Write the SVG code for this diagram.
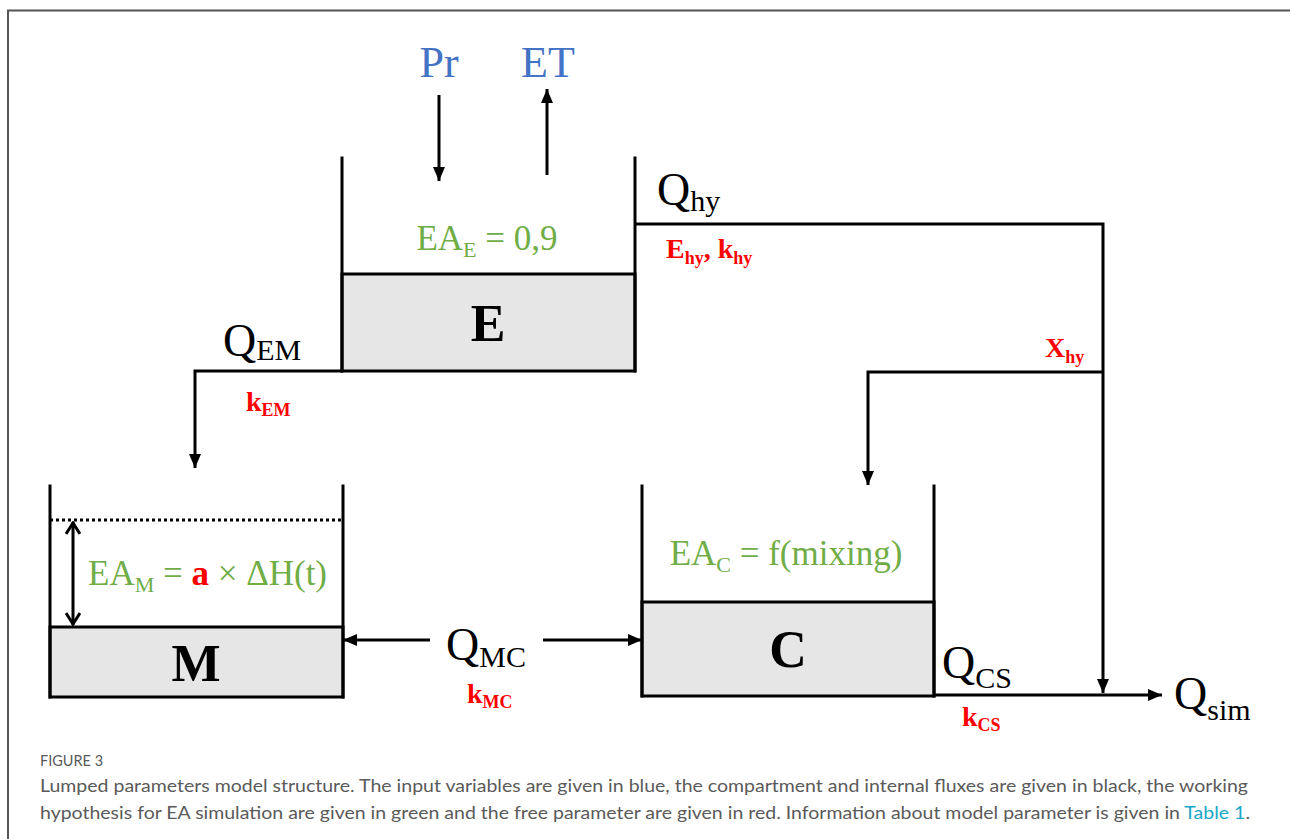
<svg xmlns="http://www.w3.org/2000/svg" width="1290" height="839" viewBox="0 0 1290 839">
<style>
.w{fill:none;stroke:#000;stroke-width:3;stroke-linecap:square}
.c{fill:none;stroke:#000;stroke-width:3}
.g{fill:#e6e6e6;stroke:#000;stroke-width:3}
.blue{font-family:"Liberation Serif",serif;fill:#4472C4;font-size:44px}
.green{font-family:"Liberation Serif",serif;fill:#70AD47;font-size:35px}
.lab{font-family:"Liberation Serif",serif;font-weight:bold;fill:#000;font-size:52px}
.q{font-family:"Liberation Serif",serif;fill:#000;font-size:46px}
.red{font-family:"Liberation Serif",serif;font-weight:bold;fill:#FF0000;font-size:28px}
.cap{font-family:Lato,"Noto Sans",sans-serif;fill:#5a5a5a}
</style>
<defs>
<marker id="ah" viewBox="0 0 14 12" refX="14" refY="6" markerWidth="14" markerHeight="12" markerUnits="userSpaceOnUse" orient="auto">
<path d="M0,0 L14,6 L0,12 Z" fill="#000"/>
</marker>
<marker id="oh" viewBox="0 0 14 16" refX="13" refY="8" markerWidth="14" markerHeight="16" markerUnits="userSpaceOnUse" orient="auto-start-reverse">
<path d="M1,1 L12,8 L1,15" fill="none" stroke="#000" stroke-width="3"/>
</marker>
</defs>
<rect width="1290" height="839" fill="#fff"/>
<path d="M8,839 V10.5 H1290" fill="none" stroke="#555" stroke-width="2"/>

<g id="node-E">
<rect x="342" y="274" width="293" height="97" class="g"/>
<path d="M342,158 V371 M635,158 V371" class="w"/>
<text x="488" y="341" class="lab" text-anchor="middle">E</text>
<text x="487" y="250" class="green" text-anchor="middle">EA<tspan font-size="22" dy="7">E</tspan><tspan dy="-7"> = 0,9</tspan></text>
</g>

<g id="node-M">
<rect x="50" y="627" width="293" height="70" class="g"/>
<path d="M50,486 V697 M343,486 V697" class="w"/>
<path d="M50,520 H343" fill="none" stroke="#000" stroke-width="3" stroke-dasharray="3,3"/>
<text x="196" y="681" class="lab" text-anchor="middle">M</text>
<text x="88" y="585" class="green">EA<tspan font-size="22" dy="7">M</tspan><tspan dy="-7"> = </tspan><tspan fill="#FF0000" font-weight="bold">a</tspan><tspan> × ΔH(t)</tspan></text>
</g>

<g id="node-C">
<rect x="642" y="602" width="292" height="94" class="g"/>
<path d="M642,486 V696 M934,486 V696" class="w"/>
<text x="788" y="667" class="lab" text-anchor="middle">C</text>
<text x="786" y="565" class="green" text-anchor="middle">EA<tspan font-size="22" dy="7">C</tspan><tspan dy="-7"> = f(mixing)</tspan></text>
</g>

<g id="inputs">
<text x="439" y="77" class="blue" text-anchor="middle">Pr</text>
<text x="548" y="77" class="blue" text-anchor="middle">ET</text>
</g>

<g id="connectors">
<line x1="439" y1="95" x2="439" y2="181" class="c" marker-end="url(#ah)"/>
<line x1="547" y1="175" x2="547" y2="89" class="c" marker-end="url(#ah)"/>
<polyline points="342,371 195,371 195,468" class="c" marker-end="url(#ah)"/>
<polyline points="635,224 1103,224 1103,693" class="c" marker-end="url(#ah)"/>
<polyline points="1103,372 868,372 868,485" class="c" marker-end="url(#ah)"/>
<line x1="430" y1="640" x2="343" y2="640" class="c" marker-end="url(#ah)"/>
<line x1="543" y1="640" x2="642" y2="640" class="c" marker-end="url(#ah)"/>
<line x1="934" y1="695" x2="1162" y2="695" class="c" marker-end="url(#ah)"/>
<line x1="73" y1="522" x2="73" y2="625" class="c" marker-start="url(#oh)" marker-end="url(#oh)"/>
</g>

<g id="labels">
<text x="657" y="205" class="q">Q<tspan font-size="30" dy="6">hy</tspan></text>
<text x="666" y="258" class="red">E<tspan font-size="18" dy="6">hy</tspan><tspan dy="-6">, k</tspan><tspan font-size="18" dy="6">hy</tspan></text>
<text x="223" y="356" class="q">Q<tspan font-size="30" dy="4">EM</tspan></text>
<text x="246" y="411" class="red">k<tspan font-size="18" dy="5">EM</tspan></text>
<text x="1045" y="357" class="red">X<tspan font-size="18" dy="6">hy</tspan></text>
<text x="446" y="660" class="q">Q<tspan font-size="30" dy="7">MC</tspan></text>
<text x="467" y="703" class="red">k<tspan font-size="18" dy="5">MC</tspan></text>
<text x="942" y="678" class="q">Q<tspan font-size="30" dy="10">CS</tspan></text>
<text x="962" y="726" class="red">k<tspan font-size="18" dy="5">CS</tspan></text>
<text x="1174" y="709" class="q">Q<tspan font-size="30" dy="11">sim</tspan></text>
</g>

<g id="caption">
<text x="40" y="766" class="cap" font-size="14.5">FIGURE 3</text>
<text x="40" y="792" class="cap" font-size="17.5" textLength="1208" lengthAdjust="spacingAndGlyphs">Lumped parameters model structure. The input variables are given in blue, the compartment and internal fluxes are given in black, the working</text>
<text x="40" y="819" class="cap" font-size="17.5" textLength="1210" lengthAdjust="spacingAndGlyphs">hypothesis for EA simulation are given in green and the free parameter are given in red. Information about model parameter is given in <tspan fill="#1AA6C8">Table 1</tspan>.</text>
</g>
</svg>
